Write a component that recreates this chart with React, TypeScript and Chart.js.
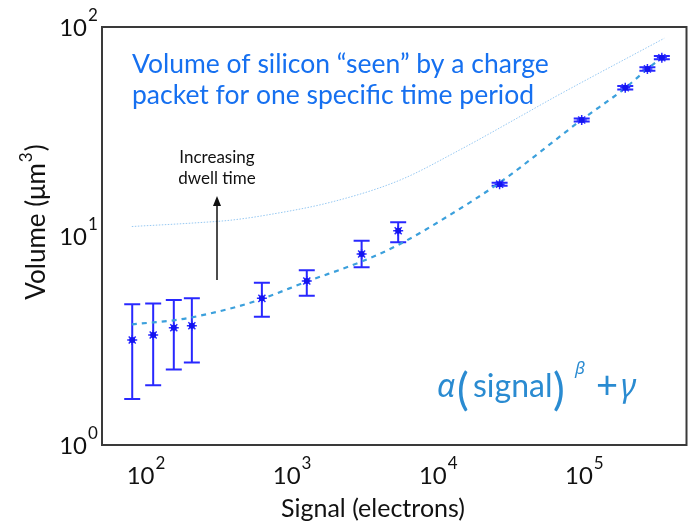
import React, { useEffect, useRef } from "react";
import { Chart, registerables } from "chart.js";

Chart.register(...registerables);

// Measured data points (signal in electrons, volume in µm³)
const X_SIGNAL = [80.5, 112, 155, 206, 621, 1260, 2990, 5320, 26300, 95900, 190500, 270000, 339000];
const Y_VOLUME = [3.18, 3.36, 3.64, 3.72, 5.03, 6.09, 8.2, 10.6, 17.7, 35.9, 51.2, 63.0, 71.3];
const Y_LOW = [1.66, 1.93, 2.3, 2.48, 4.11, 5.18, 7.08, 9.33, 17.4, 35.3, 50.2, 61.8, 70.0];
const Y_HIGH = [4.71, 4.76, 4.94, 5.03, 5.98, 6.85, 9.49, 11.63, 18.0, 36.5, 52.2, 64.2, 72.6];

// Fitted curve alpha(signal)^beta + gamma
const FIT_X = [80, 112, 155, 206, 420, 620, 1260, 2990, 5320, 12000, 26300, 95900, 190000, 270000, 345000];
const FIT_Y = [3.78, 3.86, 3.95, 4.08, 4.59, 5.0, 6.05, 7.55, 9.06, 12.6, 18.0, 36.0, 51.0, 63.0, 72.0];

// Volume seen for one specific time period (dotted line)
const DOT_X = [80, 236, 378, 671, 1905, 5460, 14000, 37800, 60500, 352000];
const DOT_Y = [11.1, 11.6, 11.9, 12.6, 14.6, 18.5, 25.8, 37.9, 45.6, 88.3];

const X_TICKS = [100, 1000, 10000, 100000];
const Y_TICKS = [1, 10, 100];

const TITLE_LINES = ["Volume of silicon \u201Cseen\u201D by a charge", "packet for one specific time period"];
const ANNOT_LINES = ["Increasing", "dwell time"];

const FONT = "Lato, 'Open Sans', sans-serif";
const GREEK = "'Noto Sans', 'DejaVu Sans', sans-serif";

const decorPlugin = {
  id: "decor",
  beforeDatasetsDraw(chart: any) {
    const { ctx } = chart;
    const xs = chart.scales.x;
    const ys = chart.scales.y;
    ctx.save();
    ctx.strokeStyle = "rgb(40,40,255)";
    ctx.lineWidth = 2;
    for (let i = 0; i < X_SIGNAL.length; i++) {
      const px = xs.getPixelForValue(X_SIGNAL[i]);
      const top = ys.getPixelForValue(Y_HIGH[i]);
      const bot = ys.getPixelForValue(Y_LOW[i]);
      ctx.beginPath();
      ctx.moveTo(px, top);
      ctx.lineTo(px, bot);
      ctx.moveTo(px - 8, top);
      ctx.lineTo(px + 8, top);
      ctx.moveTo(px - 8, bot);
      ctx.lineTo(px + 8, bot);
      ctx.stroke();
    }
    ctx.restore();
  },
  afterDatasetsDraw(chart: any) {
    const { ctx } = chart;
    const xs = chart.scales.x;
    const ys = chart.scales.y;
    ctx.save();
    ctx.fillStyle = "rgb(20,20,240)";
    for (let i = 0; i < X_SIGNAL.length; i++) {
      ctx.beginPath();
      ctx.arc(xs.getPixelForValue(X_SIGNAL[i]), ys.getPixelForValue(Y_VOLUME[i]), 3, 0, Math.PI * 2);
      ctx.fill();
    }
    ctx.restore();
  },
  afterDraw(chart: any) {
    const { ctx, chartArea } = chart;
    const xs = chart.scales.x;
    const ys = chart.scales.y;
    const { left, right, top, bottom } = chartArea;
    ctx.save();
    // frame
    ctx.strokeStyle = "#3a3a3a";
    ctx.lineWidth = 2;
    ctx.strokeRect(left, top, right - left, bottom - top);

    // tick labels
    ctx.fillStyle = "#111";
    ctx.textBaseline = "alphabetic";
    const mainFont = `24px ${FONT}`;
    const supFont = `17px ${FONT}`;
    for (const v of Y_TICKS) {
      const py = ys.getPixelForValue(v);
      const e = String(Math.round(Math.log10(v)));
      ctx.font = mainFont;
      ctx.textAlign = "right";
      ctx.fillText("10", left - 15, py + 8.5);
      ctx.font = supFont;
      ctx.textAlign = "left";
      ctx.fillText(e, left - 14, py - 6);
    }
    for (const v of X_TICKS) {
      const px = xs.getPixelForValue(v);
      const e = String(Math.round(Math.log10(v)));
      ctx.font = mainFont;
      const w10 = ctx.measureText("10").width;
      ctx.font = supFont;
      const ws = ctx.measureText(e).width;
      const start = px - (w10 + ws + 1) / 2;
      ctx.textAlign = "left";
      ctx.font = mainFont;
      ctx.fillText("10", start, bottom + 39);
      ctx.font = supFont;
      ctx.fillText(e, start + w10 + 1, bottom + 24);
    }

    // axis titles
    ctx.font = `25px ${FONT}`;
    ctx.textAlign = "center";
    ctx.fillText("Signal (electrons)", 373, 517);

    ctx.save();
    ctx.translate(45, 222);
    ctx.rotate(-Math.PI / 2);
    const yt1 = "Volume (\u03BCm";
    const yt2 = ")";
    ctx.font = `26px ${FONT}`;
    const w1 = ctx.measureText(yt1).width;
    const w2 = ctx.measureText(yt2).width;
    ctx.font = `17px ${FONT}`;
    const w3 = ctx.measureText("3").width;
    const sx = -(w1 + w2 + w3 + 2) / 2;
    ctx.textAlign = "left";
    ctx.font = `26px ${FONT}`;
    ctx.fillText(yt1, sx, 0);
    ctx.font = `17px ${FONT}`;
    ctx.fillText("3", sx + w1 + 1, -13);
    ctx.font = `26px ${FONT}`;
    ctx.fillText(yt2, sx + w1 + w3 + 2, 0);
    ctx.restore();

    // blue title text
    ctx.fillStyle = "rgb(22,112,240)";
    ctx.font = `26.5px ${FONT}`;
    ctx.textAlign = "left";
    ctx.fillText(TITLE_LINES[0], 132, 73);
    ctx.fillText(TITLE_LINES[1], 132, 104);

    // annotation
    ctx.fillStyle = "#111";
    ctx.font = `17px ${FONT}`;
    ctx.textAlign = "center";
    ctx.fillText(ANNOT_LINES[0], 217, 163);
    ctx.fillText(ANNOT_LINES[1], 217, 184);
    ctx.strokeStyle = "#111";
    ctx.lineWidth = 1.5;
    ctx.beginPath();
    ctx.moveTo(217, 280);
    ctx.lineTo(217, 204);
    ctx.stroke();
    ctx.beginPath();
    ctx.moveTo(217, 196);
    ctx.lineTo(213, 206);
    ctx.lineTo(221, 206);
    ctx.closePath();
    ctx.fill();

    // formula
    ctx.fillStyle = "rgb(42,139,209)";
    ctx.textAlign = "left";
    const fx = 437;
    const base = 397;
    const pieces: [string, string, number, number][] = [
      ["\u03B1", `italic 32px ${GREEK}`, 0, 0],
      ["(", `44px ${FONT}`, 20, 8],
      ["signal", `32px ${FONT}`, 36, 0],
      [")", `44px ${FONT}`, 116, 8],
      ["\u03B2", `italic 17px ${GREEK}`, 138, -23],
      ["+", `38px ${FONT}`, 159, 1],
      ["\u03B3", `italic 32px ${GREEK}`, 184, 0],
    ];
    for (const [t, f, dx, dy] of pieces) {
      ctx.font = f;
      ctx.fillText(t, fx + dx, base + dy);
    }
    ctx.restore();
  },
};

export default function App() {
  const ref = useRef<HTMLCanvasElement | null>(null);
  useEffect(() => {
    document.body.style.margin = "0";
    const canvas = ref.current;
    if (!canvas) return;
    const chart = new Chart(canvas, {
      type: "scatter",
      data: {
        datasets: [
          {
            label: "Measured",
            data: X_SIGNAL.map((x, i) => ({ x, y: Y_VOLUME[i] })),
            showLine: false,
            pointStyle: "star",
            pointRadius: 5,
            pointBorderWidth: 1.5,
            borderColor: "rgb(40,40,255)",
            backgroundColor: "rgb(40,40,255)",
            order: 1,
          },
          {
            label: "Fit",
            data: FIT_X.map((x, i) => ({ x, y: FIT_Y[i] })),
            showLine: true,
            pointRadius: 0,
            borderColor: "rgb(60,160,220)",
            borderWidth: 2.2,
            borderDash: [5, 5],
            cubicInterpolationMode: "monotone",
            order: 2,
          },
          {
            label: "Dwell",
            data: DOT_X.map((x, i) => ({ x, y: DOT_Y[i] })),
            showLine: true,
            pointRadius: 0,
            borderColor: "rgb(150,200,242)",
            borderWidth: 1,
            borderDash: [1.5, 1.5],
            cubicInterpolationMode: "monotone",
            order: 3,
          },
        ],
      },
      options: {
        responsive: false,
        animation: false,
        events: [],
        layout: { padding: { top: 27, right: 5, left: 0, bottom: 0 } },
        plugins: { legend: { display: false }, tooltip: { enabled: false } },
        scales: {
          x: {
            type: "logarithmic",
            min: 50,
            max: 500000,
            grid: { display: false },
            border: { display: false },
            ticks: { display: false },
            afterBuildTicks: (s: any) => {
              s.ticks = X_TICKS.map((v) => ({ value: v }));
            },
            afterFit: (s: any) => {
              s.height = 83;
            },
          },
          y: {
            type: "logarithmic",
            min: 1,
            max: 100,
            grid: { display: false },
            border: { display: false },
            ticks: { display: false },
            afterBuildTicks: (s: any) => {
              s.ticks = Y_TICKS.map((v) => ({ value: v }));
            },
            afterFit: (s: any) => {
              s.width = 102;
            },
          },
        },
      } as any,
      plugins: [decorPlugin],
    });
    return () => chart.destroy();
  }, []);
  return (
    <div style={{ width: 693, height: 528, background: "#fff" }}>
      <canvas ref={ref} width={693} height={528} />
    </div>
  );
}
